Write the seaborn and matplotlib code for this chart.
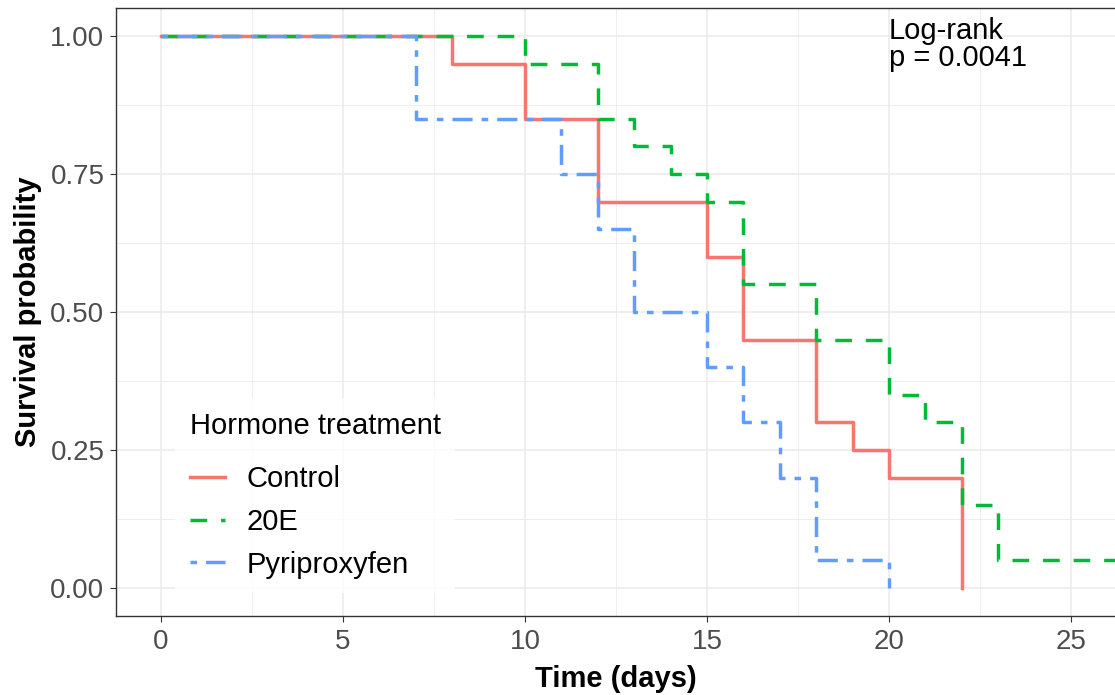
import numpy as np
import pandas as pd
import matplotlib
matplotlib.use("Agg")
import matplotlib.pyplot as plt
from matplotlib.ticker import MultipleLocator, FormatStrFormatter
import seaborn as sns

# ---- data ----
groups = ["Control", "20E", "Pyriproxyfen"]
time_control = [0, 8, 10, 12, 15, 16, 18, 19, 20, 22]
surv_control = [1.00, 0.95, 0.85, 0.70, 0.60, 0.45, 0.30, 0.25, 0.20, 0.00]
time_20e = [0, 10, 12, 13, 14, 15, 16, 18, 20, 21, 22, 23, 27]
surv_20e = [1.00, 0.95, 0.85, 0.80, 0.75, 0.70, 0.55, 0.45, 0.35, 0.30, 0.15, 0.05, 0.05]
time_pyri = [0, 7, 11, 12, 13, 15, 16, 17, 18, 20]
surv_pyri = [1.00, 0.85, 0.75, 0.65, 0.50, 0.40, 0.30, 0.20, 0.05, 0.00]
x_ticks = [0, 5, 10, 15, 20, 25]
y_ticks = [0.00, 0.25, 0.50, 0.75, 1.00]
pvalue_text = "Log-rank\np = 0.0041"

colors = {"Control": "#F8766D", "20E": "#00BA38", "Pyriproxyfen": "#619CFF"}
dashes = {"Control": "", "20E": (4.8, 4.0), "Pyriproxyfen": (1.9, 2.6, 5.8, 2.6)}
LW = 2.5

df = pd.concat([
    pd.DataFrame({"time": time_control, "surv": surv_control, "treatment": "Control"}),
    pd.DataFrame({"time": time_20e, "surv": surv_20e, "treatment": "20E"}),
    pd.DataFrame({"time": time_pyri, "surv": surv_pyri, "treatment": "Pyriproxyfen"}),
], ignore_index=True)

plt.rcParams["font.family"] = ["Liberation Sans", "DejaVu Sans"]

W, H = 1115, 695
fig = plt.figure(figsize=(W / 100, H / 100), dpi=100)
ax = fig.add_axes([115.5 / W, (H - 615.6) / H, 1001 / W, 607.2 / H])

sns.lineplot(data=df, x="time", y="surv", hue="treatment", style="treatment",
             hue_order=groups, style_order=groups, palette=colors, dashes=dashes,
             estimator=None, sort=False, drawstyle="steps-post", linewidth=LW,
             ax=ax, legend=True)

ax.set_xlim(-1.25, 26.25)
ax.set_ylim(-0.05, 1.05)
ax.set_xticks(x_ticks)
ax.set_yticks(y_ticks)
ax.yaxis.set_major_formatter(FormatStrFormatter("%.2f"))
ax.xaxis.set_minor_locator(MultipleLocator(2.5))
ax.yaxis.set_minor_locator(MultipleLocator(0.125))
ax.set_axisbelow(True)
ax.grid(which="major", color="#EBEBEB", linewidth=1.1)
ax.grid(which="minor", color="#EBEBEB", linewidth=0.6)
ax.tick_params(which="minor", length=0)
ax.tick_params(which="major", length=4, width=0.8, color="#333333",
               labelsize=20, labelcolor="#4D4D4D")
ax.tick_params(axis="x", pad=6)
ax.tick_params(axis="y", pad=4)
for s in ax.spines.values():
    s.set_color("#333333")
    s.set_linewidth(1.0)

ax.set_xlabel("Time (days)", fontsize=21, fontweight="bold", labelpad=7)
ax.set_ylabel("Survival probability", fontsize=21, fontweight="bold", labelpad=6)

ax.text(20, 1.035, pvalue_text, fontsize=21, va="top", ha="left",
        linespacing=0.95, color="black")

handles, labels = ax.get_legend_handles_labels()
leg = ax.legend(handles, labels, title="Hormone treatment", loc="lower left",
                bbox_to_anchor=(0.0594, 0.037), borderaxespad=0, frameon=True,
                fontsize=21, title_fontsize=21, handlelength=1.2,
                handletextpad=0.75, labelspacing=0.5, borderpad=0.5,
                alignment="left", fancybox=False)
leg._legend_box.sep = 18
leg.get_frame().set_facecolor("white")
leg.get_frame().set_edgecolor("none")
for ln in leg.get_lines():
    ln.set_linewidth(LW)

fig.savefig("out.png", dpi=100)
